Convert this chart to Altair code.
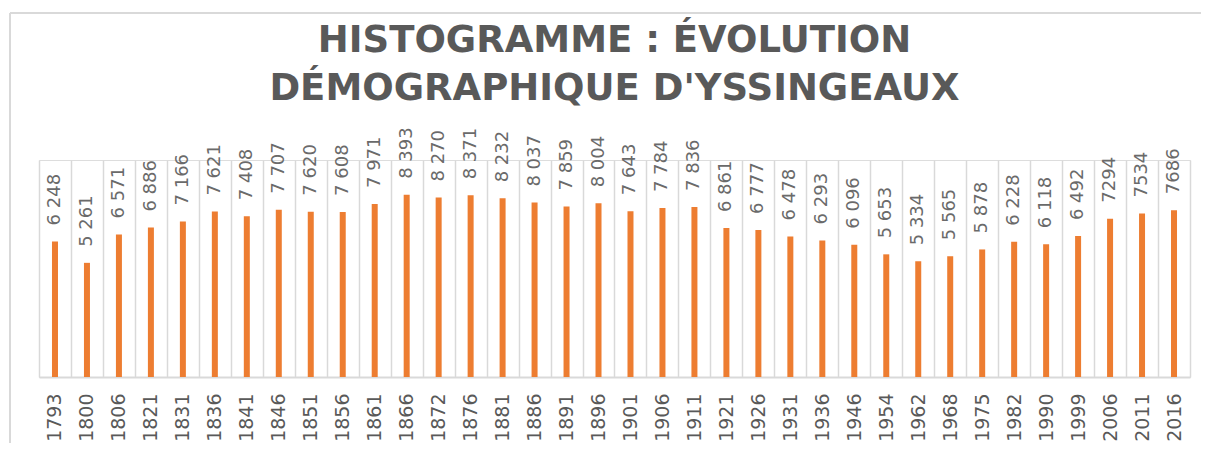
import altair as alt
import pandas as pd

years = ["1793", "1800", "1806", "1821", "1831", "1836", "1841", "1846", "1851", "1856",
         "1861", "1866", "1872", "1876", "1881", "1886", "1891", "1896", "1901", "1906",
         "1911", "1921", "1926", "1931", "1936", "1946", "1954", "1962", "1968", "1975",
         "1982", "1990", "1999", "2006", "2011", "2016"]
population = [6248, 5261, 6571, 6886, 7166, 7621, 7408, 7707, 7620, 7608,
              7971, 8393, 8270, 8371, 8232, 8037, 7859, 8004, 7643, 7784,
              7836, 6861, 6777, 6478, 6293, 6096, 5653, 5334, 5565, 5878,
              6228, 6118, 6492, 7294, 7534, 7686]
value_labels = ["6 248", "5 261", "6 571", "6 886", "7 166", "7 621", "7 408", "7 707", "7 620", "7 608",
                "7 971", "8 393", "8 270", "8 371", "8 232", "8 037", "7 859", "8 004", "7 643", "7 784",
                "7 836", "6 861", "6 777", "6 478", "6 293", "6 096", "5 653", "5 334", "5 565", "5 878",
                "6 228", "6 118", "6 492", "7294", "7534", "7686"]
title_lines = ["HISTOGRAMME : ÉVOLUTION", "DÉMOGRAPHIQUE D'YSSINGEAUX"]

df = pd.DataFrame({"annee": years, "population": population, "label": value_labels})

W, H = 1151, 217
PAD = {"left": 31, "top": 152, "right": 11, "bottom": 66}
GRID = "#d9d9d9"
TEXT = "#595959"

xenc = alt.X("annee:N", sort=years, title=None,
             scale=alt.Scale(paddingInner=0, paddingOuter=0),
             axis=alt.Axis(labelAngle=270, labelAlign="right", labelBaseline="middle",
                           labelPadding=16, labelFont="DejaVu Sans", labelFontSize=19,
                           labelColor=TEXT, ticks=False, grid=True, gridColor=GRID,
                           gridWidth=1.5, tickBand="extent", domainColor=GRID,
                           domainWidth=2, labelOverlap=False))
yenc = alt.Y("population:Q", scale=alt.Scale(domain=[0, 10000]), axis=None)

base = alt.Chart(df)
bars = base.mark_bar(size=6, color="#ED7D31").encode(x=xenc, y=yenc)
texts = base.mark_text(angle=270, align="left", baseline="middle", dx=16,
                       font="DejaVu Sans", fontSize=18, color="#6a6a6a").encode(
    x=alt.X("annee:N", sort=years), y=yenc, text="label:N")

border_left = alt.Chart(df).mark_rule(color=GRID, strokeWidth=2).encode(
    x=alt.value(-29), y=alt.value(-147), y2=alt.value(H + PAD["bottom"]))
border_top = alt.Chart(df).mark_rule(color=GRID, strokeWidth=2).encode(
    x=alt.value(-29), x2=alt.value(W + PAD["right"]), y=alt.value(-147))

chart = alt.layer(bars, texts, border_left, border_top).properties(
    width=W, height=H,
    title=alt.TitleParams(text=title_lines, font="DejaVu Sans", fontSize=37,
                          fontWeight="bold", color=TEXT, lineHeight=48,
                          anchor="middle", offset=-96),
    autosize=alt.AutoSizeParams(type="none"),
    padding=PAD,
).configure_view(stroke="transparent", strokeWidth=0).configure(background="white")

chart.save("out.html", embed_options={"renderer": "svg", "actions": False})
